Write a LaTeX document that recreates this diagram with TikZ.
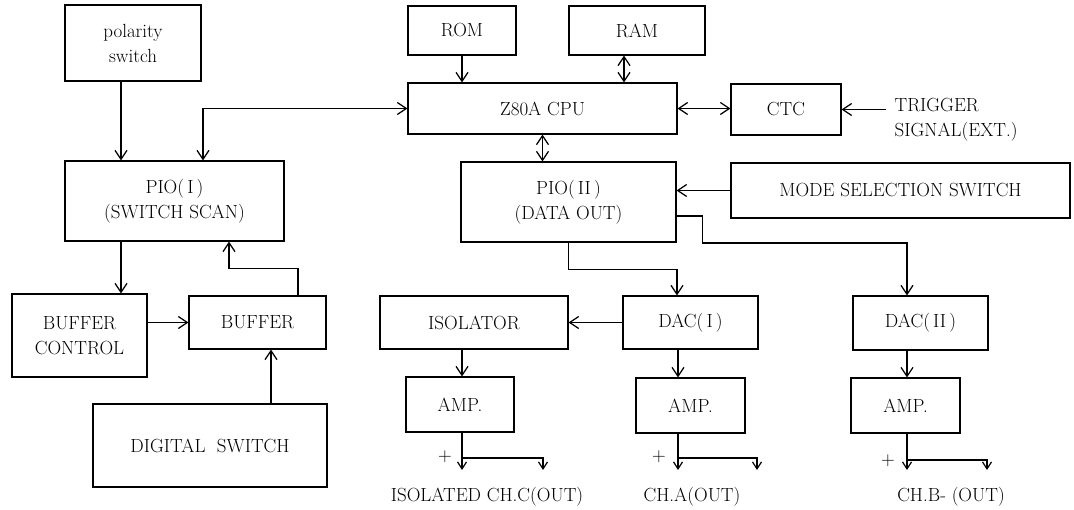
\documentclass[tikz,border=0pt]{standalone}
\usetikzlibrary{arrows.meta,calc}
\begin{document}
\begin{tikzpicture}[x=1pt,y=-1pt, line width=1.2pt,
  every node/.style={font=\fontsize{19}{25}\selectfont},
  blk/.style={draw, inner sep=0pt, align=center},
  txt/.style={inner sep=0pt, align=center},
  arr/.style={-{Straight Barb[length=9pt,width=12pt]}},
  arrb/.style={{Straight Barb[length=9pt,width=12pt]}-{Straight Barb[length=9pt,width=12pt]}},
  arrs/.style={-{Straight Barb[length=7pt,width=9pt]}}]
\useasboundingbox (0,0) rectangle (1074,510);

% boxes
\node[blk, minimum width=136pt, minimum height=76pt] (pol) at (133,43) {polarity\\switch};
\node[blk, minimum width=219pt, minimum height=80pt] (pio1) at (174.5,201) {PIO(\,I\,)\\(SWITCH SCAN)};
\node[blk, minimum width=108pt, minimum height=49pt] (rom) at (462,30.5) {ROM};
\node[blk, minimum width=136pt, minimum height=49pt] (ram) at (637,30.5) {RAM};
\node[blk, minimum width=269pt, minimum height=51pt] (cpu) at (542.5,108.5) {Z80A CPU};
\node[blk, minimum width=110pt, minimum height=51pt] (ctc) at (786,109.5) {CTC};
\node[blk, minimum width=215pt, minimum height=80pt] (pio2) at (568.5,202) {PIO(\,II\,)\\(DATA OUT)};
\node[blk, minimum width=339pt, minimum height=55pt] (mode) at (900.5,190.5) {MODE SELECTION SWITCH};
\node[blk, minimum width=135pt, minimum height=83pt] (bufc) at (79.5,335.5) {BUFFER\\CONTROL};
\node[blk, minimum width=137pt, minimum height=53pt] (buf) at (257.5,322.5) {BUFFER};
\node[blk, minimum width=234pt, minimum height=83pt] (dig) at (210,445.5) {DIGITAL\ \ SWITCH};
\node[blk, minimum width=188pt, minimum height=53pt] (iso) at (474,322.5) {ISOLATOR};
\node[blk, minimum width=135pt, minimum height=53pt] (dac1) at (690.5,322.5) {DAC(\,I\,)};
\node[blk, minimum width=135pt, minimum height=54pt] (dac2) at (920.5,323) {DAC(\,II\,)};
\node[blk, minimum width=108pt, minimum height=55pt] (amp1) at (460,404.5) {AMP.};
\node[blk, minimum width=109pt, minimum height=55pt] (amp2) at (690.5,405.5) {AMP.};
\node[blk, minimum width=109pt, minimum height=55pt] (amp3) at (905.5,405.5) {AMP.};

% texts
\node[txt, align=left, anchor=west] (trig) at (894,120) {TRIGGER\\SIGNAL(EXT.)};
\node[txt] (outc) at (487,497) {ISOLATED\ CH.C(OUT)};
\node[txt] (outa) at (692,497) {CH.A(OUT)};
\node[txt] (outb) at (951,497) {CH.B- (OUT)};
\node[txt] (p1) at (445,457) {+};
\node[txt] (p2) at (659,457) {+};
\node[txt] (p3) at (888,461) {+};

% connectors
\draw[arr] ([xshift=-12pt]pol.south) -- ([xshift=-12pt]pol.south |- pio1.north);
\draw[arrb] (cpu.west) -| ([xshift=28.5pt]pio1.north);
\draw[arr] (rom.south) -- (rom.south |- cpu.north);
\draw[arrb] ([xshift=-13pt]ram.south) -- ([xshift=-13pt]ram.south |- cpu.north);
\draw[arrb] (cpu.east) -- (cpu.east -| ctc.west);
\coordinate (tstart) at ([xshift=-8pt]trig.west |- ctc.east);
\draw[arr] (tstart) -- (ctc.east);
\draw[arrb] (cpu.south) -- (cpu.south |- pio2.north);
\draw[arr] (mode.west) -- (mode.west -| pio2.east);
\draw[arr] ([yshift=-14pt]pio2.east) -- ++(26,0) -- ++(0,27) -| ([xshift=-13.5pt]dac2.north);
\draw[arr] (pio2.south) -- ++(0,27) -| ([xshift=-13.5pt]dac1.north);
\draw[arr] (dac1.west) -- (iso.east);
\draw[arr] ([xshift=-12pt]iso.south) -- ([xshift=-12pt]iso.south |- amp1.north);
\draw[arr] ([xshift=-12.5pt]dac1.south) -- ([xshift=-12.5pt]dac1.south |- amp2.north);
\draw[arr] ([xshift=-13.5pt]dac2.south) -- ([xshift=-13.5pt]dac2.south |- amp3.north);
\draw[arr] ([xshift=-53.5pt]pio1.south) -- ([xshift=-53.5pt]pio1.south |- bufc.north);
\draw[arr] ([xshift=40.5pt]buf.north) -- ++(0,-27) -| ([xshift=54.5pt]pio1.south);
\draw[arr] (bufc.east |- buf.west) -- (buf.west);
\draw[arr] ([xshift=61pt]dig.north) -- ([xshift=61pt]dig.north |- buf.south);

% outputs
\coordinate (c1) at (462,470); \coordinate (c1b) at (543,470);
\coordinate (a1) at (678,470); \coordinate (a1b) at (757,470);
\coordinate (b1) at (907,470); \coordinate (b1b) at (987,470);
\draw[arrs] ([xshift=2pt]amp1.south) -- (c1);
\draw[arrs] ([xshift=2pt]amp1.south |- 0,458) -| (c1b);
\draw[arrs] ([xshift=-12.5pt]amp2.south) -- (a1);
\draw[arrs] ([xshift=-12.5pt]amp2.south |- 0,458) -| (a1b);
\draw[arrs] ([xshift=1.5pt]amp3.south) -- (b1);
\draw[arrs] ([xshift=1.5pt]amp3.south |- 0,460) -| (b1b);
\end{tikzpicture}
\end{document}
